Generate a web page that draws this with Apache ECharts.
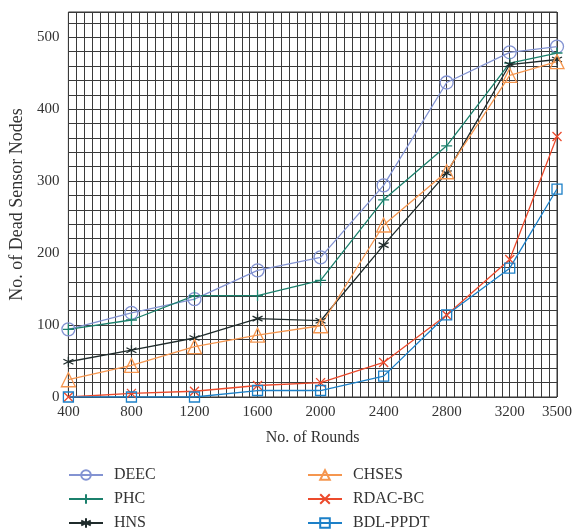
<!DOCTYPE html>
<html>
<head>
<meta charset="utf-8">
<script src="https://cdn.jsdelivr.net/npm/echarts@6/dist/echarts.min.js"></script>
<style>
  html, body { margin: 0; padding: 0; background: #fff; }
  #chart { width: 575px; height: 531px; }
</style>
</head>
<body>
<div id="chart"></div>
<script>
var rounds = [400, 800, 1200, 1600, 2000, 2400, 2800, 3200, 3500];
var xTickLabels = [400, 800, 1200, 1600, 2000, 2400, 2800, 3200, 3500];
var yTickLabels = [0, 100, 200, 300, 400, 500];

var deec    = [94, 117, 136, 176, 194, 294, 437, 479, 487];
var phc     = [94, 107, 141, 141, 162, 274, 349, 464, 478];
var hns     = [49, 65, 82, 109, 106, 211, 311, 462, 469];
var chses   = [24, 44, 70, 86, 99, 239, 313, 447, 466];
var rdacbc  = [0, 5, 8, 16, 20, 48, 114, 191, 362];
var bdlppdt = [0, 0, 0, 9, 9, 29, 114, 179, 289];

var font = '"Liberation Serif", "DejaVu Serif", serif';

function pts(arr) {
  return arr.map(function (v, i) { return [rounds[i], v]; });
}

function mk(name, data, color, symbol, size) {
  return {
    name: name,
    type: 'line',
    data: pts(data),
    symbol: symbol,
    symbolSize: size,
    lineStyle: { color: color, width: 1.3 },
    itemStyle: { color: 'rgba(255,255,255,0)', borderColor: color, borderWidth: 1.3 },
    emphasis: { disabled: true },
    z: 3
  };
}

var legendBase = {
  orient: 'vertical', top: 462, height: 90,
  itemWidth: 34, itemHeight: 12, itemGap: 8,
  textStyle: { fontFamily: font, fontSize: 16, color: '#333', padding: [0, 0, 0, 6] }
};

var chart = echarts.init(document.getElementById('chart'));
chart.setOption({
  animation: false,
  grid: {
    left: 68, right: 17, top: 12, bottom: 134,
    show: true, borderColor: '#333', borderWidth: 1
  },
  legend: [
    Object.assign({}, legendBase, { left: 63, data: ['DEEC', 'PHC', 'HNS'] }),
    Object.assign({}, legendBase, { left: 302, data: ['CHSES', 'RDAC-BC', 'BDL-PPDT'] })
  ],
  xAxis: {
    type: 'value', min: 400, max: 3500, interval: 50,
    name: 'No. of Rounds', nameLocation: 'middle', nameGap: 33,
    nameTextStyle: { fontFamily: font, fontSize: 16, color: '#333' },
    axisLine: { show: false },
    axisTick: { show: false },
    axisLabel: {
      fontFamily: font, fontSize: 15, color: '#333', margin: 8,
      formatter: function (v) { return xTickLabels.indexOf(v) >= 0 ? String(v) : ''; }
    },
    splitLine: { show: true, lineStyle: { color: '#3a3a3a', width: 1 } }
  },
  yAxis: {
    type: 'value', min: 0, max: 535, interval: 20,
    name: 'No. of Dead Sensor Nodes', nameLocation: 'middle', nameGap: 40,
    nameTextStyle: { fontFamily: font, fontSize: 18, color: '#333' },
    axisLine: { show: false },
    axisTick: { show: false },
    axisLabel: {
      fontFamily: font, fontSize: 15, color: '#333', margin: 9,
      formatter: function (v) { return yTickLabels.indexOf(v) >= 0 ? String(v) : ''; }
    },
    splitLine: { show: true, lineStyle: { color: '#3a3a3a', width: 1 } }
  },
  series: [
    mk('DEEC', deec, '#8393d2', 'circle', 13),
    mk('PHC', phc, '#1b806c', 'path://M0,5L10,5M5,0L5,10', 11),
    mk('HNS', hns, '#1f2b2b', 'path://M5,0L5,10M0.67,2.5L9.33,7.5M0.67,7.5L9.33,2.5', 10),
    mk('CHSES', chses, '#f5964f', 'triangle', 14),
    mk('RDAC-BC', rdacbc, '#ec4a2c', 'path://M0,0L10,10M0,10L10,0', 9),
    mk('BDL-PPDT', bdlppdt, '#1c80c8', 'rect', 10)
  ]
});
</script>
</body>
</html>
